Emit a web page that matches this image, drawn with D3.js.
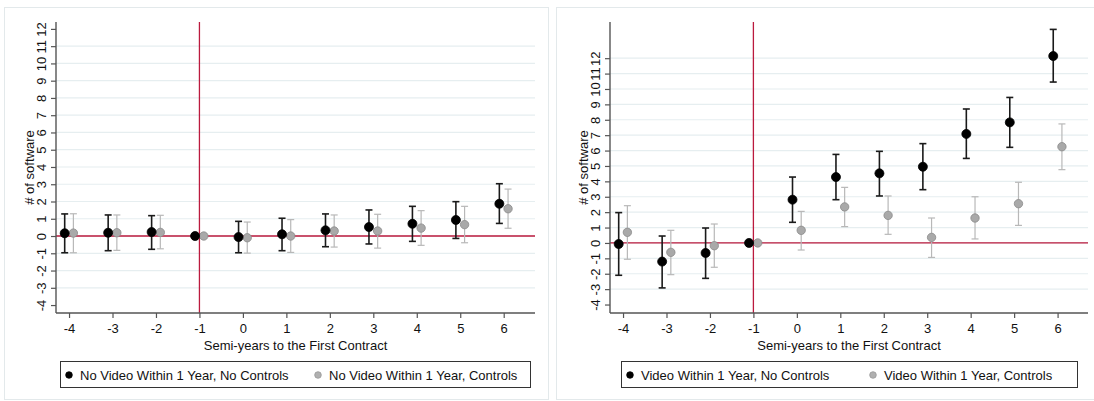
<!DOCTYPE html>
<html>
<head>
<meta charset="utf-8">
<script src="https://cdn.jsdelivr.net/npm/d3@7"></script>
<style>
  body { margin: 0; background: #fff; }
  svg { font-family: "Liberation Sans", Arial, Helvetica, sans-serif; }
</style>
</head>
<body>
<svg id="chart" width="1094" height="401"></svg>
<script>
// semi-years relative to first contract
var semiYears = [-4, -3, -2, -1, 0, 1, 2, 3, 4, 5, 6];
var yTicks = [-4, -3, -2, -1, 0, 1, 2, 3, 4, 5, 6, 7, 8, 9, 10, 11, 12];

// left panel: no video within 1 year
var noVidNoCtrl   = [0.16, 0.19, 0.23, 0, -0.06, 0.10, 0.33, 0.52, 0.71, 0.93, 1.87];
var noVidNoCtrlLo = [-0.97, -0.85, -0.77, 0, -0.97, -0.85, -0.62, -0.46, -0.31, -0.14, 0.73];
var noVidNoCtrlHi = [1.28, 1.22, 1.18, 0, 0.85, 1.03, 1.28, 1.51, 1.72, 1.99, 3.03];
var noVidCtrl     = [0.17, 0.19, 0.21, 0, -0.10, 0.00, 0.29, 0.29, 0.46, 0.66, 1.58];
var noVidCtrlLo   = [-0.97, -0.83, -0.74, 0, -0.99, -0.95, -0.64, -0.70, -0.54, -0.39, 0.45];
var noVidCtrlHi   = [1.29, 1.22, 1.20, 0, 0.81, 0.95, 1.22, 1.26, 1.47, 1.72, 2.72];

// right panel: video within 1 year
var vidNoCtrl   = [-0.07, -1.21, -0.65, 0, 2.81, 4.28, 4.52, 4.95, 7.08, 7.83, 12.14];
var vidNoCtrlLo = [-2.10, -2.92, -2.30, 0, 1.34, 2.81, 3.05, 3.46, 5.49, 6.21, 10.45];
var vidNoCtrlHi = [1.97, 0.45, 0.97, 0, 4.28, 5.75, 5.95, 6.45, 8.70, 9.45, 13.87];
var vidCtrl     = [0.69, -0.61, -0.18, 0, 0.82, 2.34, 1.79, 0.36, 1.62, 2.55, 6.25];
var vidCtrlLo   = [-1.06, -2.06, -1.58, 0, -0.46, 1.06, 0.56, -0.94, 0.26, 1.14, 4.76];
var vidCtrlHi   = [2.42, 0.82, 1.23, 0, 2.05, 3.61, 3.05, 1.62, 3.00, 3.94, 7.73];

var legendNames = [
  ['No Video Within 1 Year, No Controls', 'No Video Within 1 Year, Controls'],
  ['Video Within 1 Year, No Controls', 'Video Within 1 Year, Controls']
];

var RED = '#bb1a3e', AXIS = '#555', GRID = '#e6eef0';
var svg = d3.select('#chart');

function series(vals, lo, hi) {
  return semiYears.map(function (s, i) { return { x: s, y: vals[i], lo: lo[i], hi: hi[i] }; });
}

var panels = [
  {
    frame: [4.5, 7.5, 544, 392],
    left: 56, right: 535, top: 22, bottom: 313,
    xDom: [-4.3, 6.72], yDom: [-4.46, 12.4],
    gridTicks: yTicks.slice(1, -1),
    black: series(noVidNoCtrl, noVidNoCtrlLo, noVidNoCtrlHi),
    gray: series(noVidCtrl, noVidCtrlLo, noVidCtrlHi),
    names: legendNames[0],
    legend: { x0: 60, x1: 530, k1: 69, k2: 318 }
  },
  {
    frame: [556.5, 7.5, 545, 392],
    left: 610, right: 1088, top: 22, bottom: 313,
    xDom: [-4.3, 6.7], yDom: [-4.55, 14.35],
    gridTicks: yTicks.slice(1),
    black: series(vidNoCtrl, vidNoCtrlLo, vidNoCtrlHi),
    gray: series(vidCtrl, vidCtrlLo, vidCtrlHi),
    names: legendNames[1],
    legend: { x0: 621, x1: 1077, k1: 630, k2: 873 }
  }
];

panels.forEach(drawPanel);

function drawPanel(p) {
  var x = d3.scaleLinear().domain(p.xDom).range([p.left, p.right]);
  var y = d3.scaleLinear().domain(p.yDom).range([p.bottom, p.top]);
  var g = svg.append('g');
  var fmt = function (d) { return String(d); }; // plain hyphen minus like the original

  g.append('rect')
    .attr('x', p.frame[0]).attr('y', p.frame[1])
    .attr('width', p.frame[2]).attr('height', p.frame[3])
    .attr('fill', '#fff').attr('stroke', '#e3e9eb');

  // gridlines
  g.append('g').selectAll('line').data(p.gridTicks).join('line')
    .attr('x1', p.left).attr('x2', p.right)
    .attr('y1', function (d) { return y(d); }).attr('y2', function (d) { return y(d); })
    .attr('stroke', GRID).attr('stroke-width', 1.2);

  // reference lines
  g.append('line').attr('x1', p.left).attr('x2', p.right)
    .attr('y1', y(0)).attr('y2', y(0)).attr('stroke', RED).attr('stroke-width', 1.3);
  g.append('line').attr('x1', x(-1)).attr('x2', x(-1))
    .attr('y1', p.top).attr('y2', p.bottom).attr('stroke', RED).attr('stroke-width', 1.3);

  // y axis
  var ya = g.append('g').attr('transform', 'translate(' + p.left + ',0)')
    .call(d3.axisLeft(y).tickValues(yTicks).tickSize(5).tickSizeOuter(0).tickFormat(fmt));
  ya.select('.domain').attr('d', 'M0,' + p.top + 'V' + p.bottom);
  ya.selectAll('text')
    .attr('transform', 'rotate(-90)')
    .attr('x', 0).attr('y', -10).attr('dy', 0)
    .attr('text-anchor', 'middle');

  // x axis
  var xa = g.append('g').attr('transform', 'translate(0,' + p.bottom + ')')
    .call(d3.axisBottom(x).tickValues(semiYears).tickSize(5).tickSizeOuter(0).tickFormat(fmt));
  xa.select('.domain').attr('d', 'M' + p.left + ',0H' + p.right);
  xa.selectAll('text').attr('y', 20).attr('dy', 0);

  [ya, xa].forEach(function (a) {
    a.selectAll('.domain').attr('stroke', AXIS).attr('stroke-width', 1.4);
    a.selectAll('.tick line').attr('stroke', AXIS).attr('stroke-width', 1.2);
    a.selectAll('text').attr('fill', '#111').attr('font-size', 13).attr('font-family', null);
  });

  // axis titles
  g.append('text')
    .attr('transform', 'translate(' + (p.left - 22) + ',' + ((p.top + p.bottom) / 2) + ') rotate(-90)')
    .attr('text-anchor', 'middle').attr('font-size', 13).attr('fill', '#111')
    .text('# of software');
  g.append('text')
    .attr('x', (p.left + p.right) / 2).attr('y', 350)
    .attr('text-anchor', 'middle').attr('font-size', 13).attr('fill', '#111')
    .text('Semi-years to the First Contract');

  // series: gray (controls) offset right, black (no controls) offset left
  drawSeries(g, p.gray, x, y, 0.1, { bar: '#b8b8b8', bw: 1.2, fill: '#a9a9a9', stroke: '#8a8a8a', r: 4.2 });
  drawSeries(g, p.black, x, y, -0.1, { bar: '#1a1a1a', bw: 1.6, fill: '#000', stroke: '#000', r: 4.5 });

  // legend
  var L = p.legend, ly = 375;
  g.append('rect').attr('x', L.x0 + 0.5).attr('y', 361.5)
    .attr('width', L.x1 - L.x0).attr('height', 26)
    .attr('fill', '#fff').attr('stroke', '#333').attr('stroke-width', 1);
  var keys = [{ k: L.k1, fill: '#000', stroke: '#000', name: p.names[0] },
              { k: L.k2, fill: '#b0b0b0', stroke: '#999', name: p.names[1] }];
  keys.forEach(function (d) {
    g.append('circle').attr('cx', d.k).attr('cy', ly).attr('r', 3.3)
      .attr('fill', d.fill).attr('stroke', d.stroke).attr('stroke-width', 0.8);
    g.append('text').attr('x', d.k + 11).attr('y', ly + 4.6)
      .attr('font-size', 13).attr('fill', '#111').text(d.name);
  });
}

function drawSeries(g, data, x, y, off, st) {
  var s = g.append('g');
  var withCi = data.filter(function (d) { return d.hi !== d.lo; });
  s.selectAll('line.ci').data(withCi).join('line').attr('class', 'ci')
    .attr('x1', function (d) { return x(d.x + off); }).attr('x2', function (d) { return x(d.x + off); })
    .attr('y1', function (d) { return y(d.lo); }).attr('y2', function (d) { return y(d.hi); })
    .attr('stroke', st.bar).attr('stroke-width', st.bw);
  ['lo', 'hi'].forEach(function (k) {
    s.selectAll('line.cap' + k).data(withCi).join('line').attr('class', 'cap' + k)
      .attr('x1', function (d) { return x(d.x + off) - 3.5; }).attr('x2', function (d) { return x(d.x + off) + 3.5; })
      .attr('y1', function (d) { return y(d[k]); }).attr('y2', function (d) { return y(d[k]); })
      .attr('stroke', st.bar).attr('stroke-width', st.bw);
  });
  s.selectAll('circle').data(data).join('circle')
    .attr('cx', function (d) { return x(d.x + off); })
    .attr('cy', function (d) { return y(d.y); })
    .attr('r', st.r)
    .attr('fill', st.fill).attr('stroke', st.stroke).attr('stroke-width', 0.8);
}
</script>
</body>
</html>
